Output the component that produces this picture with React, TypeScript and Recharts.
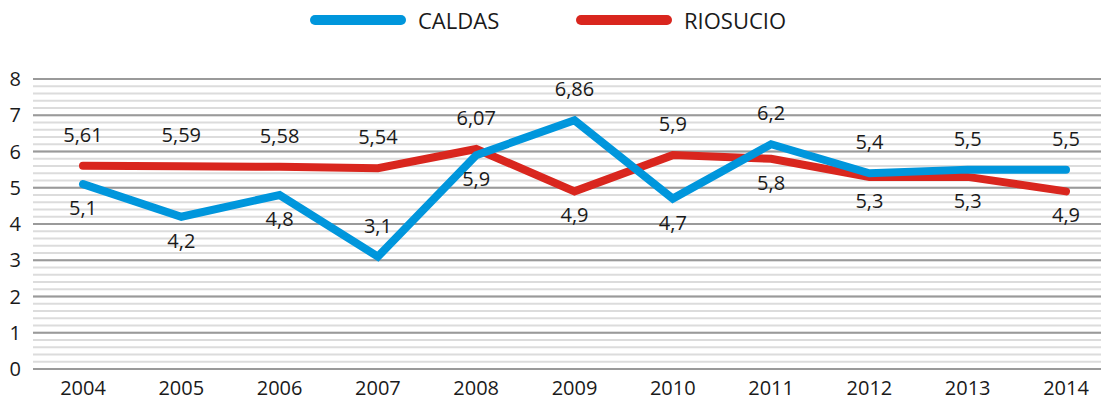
import { LineChart, Line, XAxis, YAxis, CartesianGrid, LabelList } from 'recharts'

const years = ['2004', '2005', '2006', '2007', '2008', '2009', '2010', '2011', '2012', '2013', '2014']
const caldas = [5.1, 4.2, 4.8, 3.1, 5.9, 6.86, 4.7, 6.2, 5.4, 5.5, 5.5]
const riosucio = [5.61, 5.59, 5.58, 5.54, 6.07, 4.9, 5.9, 5.8, 5.3, 5.3, 4.9]
const majorTicks = [0, 1, 2, 3, 4, 5, 6, 7, 8]
const minorTicks = Array.from({ length: 41 }, (_, i) => +(i * 0.2).toFixed(1))
const Y_MAX = 8

const BLUE = '#0096dc'
const RED = '#d9261e'
const FONT = '"Open Sans", sans-serif'
const INK = '#1a1a1a'

const data = years.map((y, i) => ({ year: y, caldas: caldas[i], riosucio: riosucio[i] }))

const fmt = (v: number) => String(v).replace('.', ',')

// higher of the two series gets its label above, the lower one below
// (2007 caldas sits inside the V, so it goes above too)
function makeLabel(key: 'caldas' | 'riosucio') {
  const other = key === 'caldas' ? 'riosucio' : 'caldas'
  return (props: any) => {
    const { x, y, index, value } = props
    const d = data[index]
    const above = d[key] > d[other] || (key === 'caldas' && d.year === '2007')
    return (
      <text x={x} y={above ? y - 24 : y + 31} textAnchor="middle" fontSize={20} fontFamily={FONT} fill={INK}>
        {fmt(value)}
      </text>
    )
  }
}

function LegendBox() {
  const item = (color: string, label: string, left: number) => (
    <div style={{ position: 'absolute', left, top: 5, display: 'flex', alignItems: 'center' }}>
      <div style={{ width: 96, height: 10, borderRadius: 5, background: color }} />
      <span style={{ marginLeft: 12, fontFamily: FONT, fontSize: 22, color: INK, lineHeight: '30px' }}>{label}</span>
    </div>
  )
  return (
    <>
      {item(BLUE, 'CALDAS', 310)}
      {item(RED, 'RIOSUCIO', 576)}
    </>
  )
}

// minor grid every 0.2 between the integer lines
const minorGrid = ({ offset }: any) =>
  minorTicks.map((t) => offset.top + offset.height * (1 - t / Y_MAX))

export default function App() {
  return (
    <div style={{ position: 'absolute', left: 0, top: 0, width: 1101, height: 412, background: '#fff' }}>
      <LegendBox />
      <LineChart width={1101} height={412} data={data} margin={{ top: 79, right: 0, bottom: 0, left: 0 }}>
        <YAxis
          domain={[0, Y_MAX]}
          ticks={majorTicks}
          width={33}
          axisLine={false}
          tickLine={false}
          tick={{ fontSize: 20, fontFamily: FONT, fill: INK }}
          tickMargin={6}
        />
        <XAxis
          dataKey="year"
          height={43}
          padding={{ left: 50, right: 35 }}
          axisLine={false}
          tickLine={false}
          tick={{ fontSize: 20, fontFamily: FONT, fill: INK }}
          tickMargin={6}
        />
        <CartesianGrid vertical={false} stroke="#dcdcdc" strokeWidth={2} horizontalCoordinatesGenerator={minorGrid} />
        <CartesianGrid vertical={false} stroke="#9a9a9a" strokeWidth={2} />
        <Line dataKey="riosucio" stroke={RED} strokeWidth={8} dot={false} strokeLinecap="round" isAnimationActive={false}>
          <LabelList dataKey="riosucio" content={makeLabel('riosucio')} />
        </Line>
        <Line dataKey="caldas" stroke={BLUE} strokeWidth={8} dot={false} strokeLinecap="round" isAnimationActive={false}>
          <LabelList dataKey="caldas" content={makeLabel('caldas')} />
        </Line>
      </LineChart>
    </div>
  )
}
